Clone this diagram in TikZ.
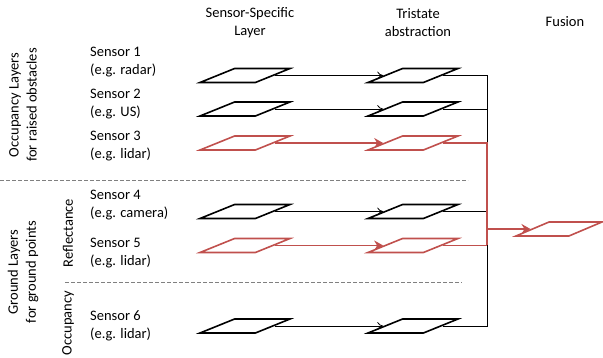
\documentclass[tikz,border=0pt]{standalone}
\usepackage{fontspec}
\setmainfont{Carlito}
\usetikzlibrary{shapes.geometric, arrows.meta}
\definecolor{accent}{HTML}{C0504D}
\definecolor{sepgray}{HTML}{808080}

\begin{document}
\begin{tikzpicture}[x=1pt, y=-1pt,
  font=\fontsize{14.5}{18}\selectfont,
  layer/.style={draw, shape=trapezium, trapezium left angle=31,
    trapezium right angle=149, trapezium stretches=true,
    minimum width=90pt, minimum height=14pt, inner sep=1pt,
    line width=1.6pt, line join=miter},
  hot/.style={draw=accent},
  conn/.style={line width=0.8pt},
  hotconn/.style={draw=accent, line width=1.6pt},
  blackarrow/.style={-{To[length=6pt, width=8pt]}},
  redarrow/.style={-{Stealth[length=9pt, width=10pt, inset=3pt]}},
  sep/.style={draw=sepgray, line width=0.8pt, dash pattern=on 3.5pt off 2.5pt},
  label/.style={anchor=west, align=left, inner sep=0pt},
  head/.style={align=center, inner sep=0pt},
  side/.style={rotate=90, align=center, inner sep=0pt}
]
\useasboundingbox (0,0) rectangle (603,358);

% column headings
\node[head] (hss) at (250,23) {Sensor-Specific\\Layer};
\node[head] (htr) at (418,23) {Tristate\\abstraction};
\node[head] (hfu) at (565,22) {Fusion};

% group labels
\node[side] (gocc) at (23,105) {Occupancy Layers\\for raised obstacles};
\node[side] (ggnd) at (23,272) {Ground Layers\\for ground points};
\node[side] (grefl) at (68,233) {Reflectance};
\node[side] (gocc2) at (68,323) {Occupancy};

% separators
\coordinate (d1a) at (0,180);
\coordinate (d1b) at (468,180);
\coordinate (d2a) at (65,282);
\coordinate (d2b) at (462,282);
\draw[sep] (d1a) -- (d1b);
\draw[sep] (d2a) -- (d2b);

% sensor names
\node[label] (l1) at (90,62) {Sensor 1\\(e.g. radar)};
\node[label] (l2) at (90,104.5) {Sensor 2\\(e.g. US)};
\node[label] (l3) at (90,146.5) {Sensor 3\\(e.g. lidar)};
\node[label] (l4) at (90,205) {Sensor 4\\(e.g. camera)};
\node[label] (l5) at (90,253) {Sensor 5\\(e.g. lidar)};
\node[label] (l6) at (90,325.5) {Sensor 6\\(e.g. lidar)};

% sensor-specific layers
\node[layer] (s1) at (245,75.5) {};
\node[layer] (s2) at (245,109) {};
\node[layer, hot] (s3) at (245,143) {};
\node[layer] (s4) at (245,211.5) {};
\node[layer, hot] (s5) at (245,245.5) {};
\node[layer] (s6) at (245,326) {};

% tristate layers
\node[layer] (t1) at (413,75.5) {};
\node[layer] (t2) at (413,109) {};
\node[layer, hot] (t3) at (413,143) {};
\node[layer] (t4) at (413,211.5) {};
\node[layer, hot] (t5) at (413,245.5) {};
\node[layer] (t6) at (413,326) {};

% fused layer
\node[layer, hot, minimum width=86pt] (fu) at (559,229) {};

% sensor layer -> tristate
\draw[conn, blackarrow] (s1.east) -- (t1.west);
\draw[conn, blackarrow] (s2.east) -- (t2.west);
\draw[hotconn, redarrow] (s3.east) -- (t3.west);
\draw[conn, blackarrow] (s4.east) -- (t4.west);
\draw[hotconn, redarrow] (s5.east) -- (t5.west);
\draw[conn, blackarrow] (s6.east) -- (t6.west);

% collecting bus
\coordinate (b2) at (487,109);
\coordinate (b3) at (487,143);
\coordinate (b4) at (487,211.5);
\coordinate (b5) at (487,245.5);
\coordinate (bf) at (487,229);
\draw[conn] (t1.east) -| (b3);
\draw[conn] (t2.east) -- (b2);
\draw[conn] (t6.east) -| (b5);
\draw[conn] (t4.east) -- (b4);
\draw[hotconn] (t3.east) -| (b5);
\draw[hotconn] (t5.east) -- (b5);
\draw[hotconn, redarrow] (bf) -- (fu.west);
\end{tikzpicture}
\end{document}
